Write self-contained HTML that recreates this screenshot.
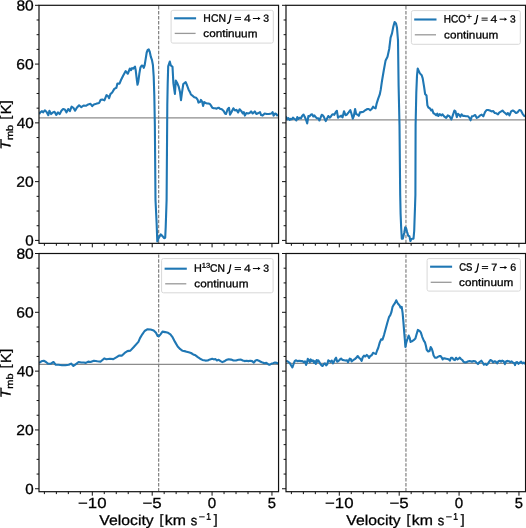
<!DOCTYPE html>
<html><head><meta charset="utf-8"><style>
html,body{margin:0;padding:0;background:#fff;width:526px;height:528px;overflow:hidden}
svg{display:block}
text{font-family:"Liberation Sans",sans-serif}
</style></head><body><svg width="526" height="528" viewBox="0 0 526 528" style="will-change:transform" font-family="Liberation Sans, sans-serif"><clipPath id="clipTL"><rect x="39.0" y="5.3" width="239.55" height="238.05"/></clipPath><g clip-path="url(#clipTL)"><line x1="39.00" y1="117.95" x2="278.55" y2="117.95" stroke="#8c8c8c" stroke-width="1.3" /><line x1="158.65" y1="243.35" x2="158.65" y2="5.30" stroke="#808080" stroke-width="1.2" stroke-dasharray="3.47 1.5" stroke-dashoffset="4.72"/><polyline points="39.10,114.10 40.30,112.40 42.00,111.20 43.10,112.40 44.80,110.30 46.60,112.10 48.30,115.20 49.40,110.70 51.10,114.10 52.80,112.40 54.50,111.80 56.30,114.90 58.00,112.40 59.70,114.10 61.40,110.70 63.10,109.00 64.80,109.50 66.50,112.40 68.20,109.00 69.90,111.20 71.60,106.70 73.40,107.80 75.10,110.70 76.80,107.80 79.10,105.30 81.30,107.20 83.60,105.50 85.90,105.80 88.20,104.40 90.50,103.80 92.20,106.10 93.90,104.40 96.20,103.80 97.10,103.40 99.20,102.90 100.70,99.80 102.30,99.60 104.40,100.30 106.50,95.10 108.00,96.10 109.10,98.20 110.40,94.10 112.20,92.50 114.30,88.90 116.40,87.80 117.40,83.60 119.50,83.60 121.00,80.00 123.10,75.80 125.70,71.10 127.80,73.75 129.90,68.50 131.00,70.20 132.10,68.10 133.10,68.60 134.20,67.60 135.00,66.60 135.70,70.20 136.80,79.60 137.50,84.80 138.30,81.70 139.40,73.30 140.40,67.60 141.70,65.50 142.70,65.80 143.75,67.90 144.60,65.50 145.60,59.30 146.70,52.50 147.70,49.90 148.75,49.40 149.80,52.00 150.80,56.70 151.90,59.80 152.90,65.00 153.70,76.50 154.30,95.00 154.85,125.00 155.50,200.00 156.60,222.70 157.30,241.40 158.60,238.20 160.60,234.40 162.30,235.90 164.10,238.20 165.20,237.70 165.70,227.30 166.60,200.00 167.30,105.00 167.70,83.40 168.20,66.40 169.80,61.60 170.80,65.40 172.50,66.80 173.40,83.40 174.90,93.90 175.80,80.60 177.20,83.00 178.60,86.30 180.00,92.10 181.00,100.20 181.90,93.10 183.30,84.00 185.70,82.10 187.10,85.50 188.60,89.70 190.00,92.10 190.90,94.50 192.80,95.90 194.30,97.30 196.20,97.80 197.60,99.70 198.50,102.60 200.00,102.10 200.90,99.90 202.10,101.60 203.10,105.90 204.20,102.10 205.70,103.00 207.10,103.50 208.50,103.50 209.90,104.00 210.90,105.40 212.30,107.80 213.70,108.30 215.20,108.30 216.60,108.70 218.00,107.80 219.00,107.80 219.90,108.70 221.80,109.20 223.70,111.10 225.00,113.50 226.00,114.00 227.60,109.30 229.00,107.80 230.00,114.60 231.30,112.50 233.40,108.30 234.90,110.40 236.50,109.90 238.10,112.50 239.60,109.30 241.20,110.90 242.80,113.50 243.80,112.00 244.90,115.60 246.40,113.00 248.00,113.50 249.60,113.00 251.10,111.40 252.70,113.50 254.80,111.40 256.40,114.00 258.50,113.00 260.00,112.00 261.10,115.10 262.60,115.60 264.70,113.50 266.80,114.00 268.90,114.00 271.50,113.50 272.60,112.00 273.60,115.60 275.20,113.50 276.20,114.00 277.80,116.10" fill="none" stroke="#1f77b4" stroke-width="2.1" stroke-linejoin="round" stroke-linecap="butt" /></g><rect x="39.0" y="5.3" width="239.55" height="238.05" fill="none" stroke="#111111" stroke-width="1.2"/><line x1="35.00" y1="240.41" x2="39.00" y2="240.41" stroke="#111111" stroke-width="1.0" /><line x1="36.60" y1="225.72" x2="39.00" y2="225.72" stroke="#111111" stroke-width="1.0" /><line x1="36.60" y1="211.02" x2="39.00" y2="211.02" stroke="#111111" stroke-width="1.0" /><line x1="36.60" y1="196.33" x2="39.00" y2="196.33" stroke="#111111" stroke-width="1.0" /><line x1="35.00" y1="181.63" x2="39.00" y2="181.63" stroke="#111111" stroke-width="1.0" /><line x1="36.60" y1="166.94" x2="39.00" y2="166.94" stroke="#111111" stroke-width="1.0" /><line x1="36.60" y1="152.24" x2="39.00" y2="152.24" stroke="#111111" stroke-width="1.0" /><line x1="36.60" y1="137.55" x2="39.00" y2="137.55" stroke="#111111" stroke-width="1.0" /><line x1="35.00" y1="122.86" x2="39.00" y2="122.86" stroke="#111111" stroke-width="1.0" /><line x1="36.60" y1="108.16" x2="39.00" y2="108.16" stroke="#111111" stroke-width="1.0" /><line x1="36.60" y1="93.47" x2="39.00" y2="93.47" stroke="#111111" stroke-width="1.0" /><line x1="36.60" y1="78.77" x2="39.00" y2="78.77" stroke="#111111" stroke-width="1.0" /><line x1="35.00" y1="64.08" x2="39.00" y2="64.08" stroke="#111111" stroke-width="1.0" /><line x1="36.60" y1="49.38" x2="39.00" y2="49.38" stroke="#111111" stroke-width="1.0" /><line x1="36.60" y1="34.69" x2="39.00" y2="34.69" stroke="#111111" stroke-width="1.0" /><line x1="36.60" y1="19.99" x2="39.00" y2="19.99" stroke="#111111" stroke-width="1.0" /><line x1="35.00" y1="5.30" x2="39.00" y2="5.30" stroke="#111111" stroke-width="1.0" /><line x1="44.39" y1="243.35" x2="44.39" y2="245.75" stroke="#111111" stroke-width="1.0" /><line x1="56.37" y1="243.35" x2="56.37" y2="245.75" stroke="#111111" stroke-width="1.0" /><line x1="68.34" y1="243.35" x2="68.34" y2="245.75" stroke="#111111" stroke-width="1.0" /><line x1="80.32" y1="243.35" x2="80.32" y2="245.75" stroke="#111111" stroke-width="1.0" /><line x1="92.30" y1="243.35" x2="92.30" y2="247.35" stroke="#111111" stroke-width="1.0" /><line x1="104.28" y1="243.35" x2="104.28" y2="245.75" stroke="#111111" stroke-width="1.0" /><line x1="116.25" y1="243.35" x2="116.25" y2="245.75" stroke="#111111" stroke-width="1.0" /><line x1="128.23" y1="243.35" x2="128.23" y2="245.75" stroke="#111111" stroke-width="1.0" /><line x1="140.21" y1="243.35" x2="140.21" y2="245.75" stroke="#111111" stroke-width="1.0" /><line x1="152.19" y1="243.35" x2="152.19" y2="247.35" stroke="#111111" stroke-width="1.0" /><line x1="164.16" y1="243.35" x2="164.16" y2="245.75" stroke="#111111" stroke-width="1.0" /><line x1="176.14" y1="243.35" x2="176.14" y2="245.75" stroke="#111111" stroke-width="1.0" /><line x1="188.12" y1="243.35" x2="188.12" y2="245.75" stroke="#111111" stroke-width="1.0" /><line x1="200.10" y1="243.35" x2="200.10" y2="245.75" stroke="#111111" stroke-width="1.0" /><line x1="212.07" y1="243.35" x2="212.07" y2="247.35" stroke="#111111" stroke-width="1.0" /><line x1="224.05" y1="243.35" x2="224.05" y2="245.75" stroke="#111111" stroke-width="1.0" /><line x1="236.03" y1="243.35" x2="236.03" y2="245.75" stroke="#111111" stroke-width="1.0" /><line x1="248.01" y1="243.35" x2="248.01" y2="245.75" stroke="#111111" stroke-width="1.0" /><line x1="259.98" y1="243.35" x2="259.98" y2="245.75" stroke="#111111" stroke-width="1.0" /><line x1="271.96" y1="243.35" x2="271.96" y2="247.35" stroke="#111111" stroke-width="1.0" /><text transform="translate(25.29,245.56) skewY(0.05) scale(1.0382,1)" font-size="14.6" fill="#000" stroke="#000" stroke-width="0.289">0</text><text transform="translate(16.32,186.78) skewY(0.05) scale(1.0744,1)" font-size="14.6" fill="#000" stroke="#000" stroke-width="0.279">20</text><text transform="translate(16.72,128.01) skewY(0.05) scale(1.0487,1)" font-size="14.6" fill="#000" stroke="#000" stroke-width="0.286">40</text><text transform="translate(16.32,69.23) skewY(0.05) scale(1.0744,1)" font-size="14.6" fill="#000" stroke="#000" stroke-width="0.279">60</text><text transform="translate(16.40,10.45) skewY(0.05) scale(1.0692,1)" font-size="14.6" fill="#000" stroke="#000" stroke-width="0.281">80</text><text transform="translate(10.60,149.71) rotate(-90) skewY(0.05) scale(1.0746,1)" font-size="14.6" font-style="italic" fill="#000" stroke="#000" stroke-width="0.279">T</text><text transform="translate(13.05,140.11) rotate(-90) skewY(0.05) scale(1.1430,1)" font-size="9.6" fill="#000" stroke="#000" stroke-width="0.262">mb</text><text transform="translate(9.90,119.54) rotate(-90) skewY(0.05) scale(0.9643,1)" font-size="14.0" fill="#000" stroke="#000" stroke-width="0.311">[</text><text transform="translate(10.90,114.30) rotate(-90) skewY(0.05) scale(1.0244,1)" font-size="14.6" fill="#000" stroke="#000" stroke-width="0.293">K</text><text transform="translate(9.90,104.14) rotate(-90) skewY(0.05) scale(1.0256,1)" font-size="14.0" fill="#000" stroke="#000" stroke-width="0.293">]</text><clipPath id="clipTR"><rect x="286.0" y="5.3" width="239.55" height="238.05"/></clipPath><g clip-path="url(#clipTR)"><line x1="286.00" y1="119.90" x2="525.55" y2="119.90" stroke="#8c8c8c" stroke-width="1.3" /><line x1="405.95" y1="243.35" x2="405.95" y2="5.30" stroke="#808080" stroke-width="1.2" stroke-dasharray="3.47 1.5" stroke-dashoffset="4.72"/><polyline points="285.00,116.50 286.10,117.10 287.30,119.40 288.40,118.00 289.60,120.00 290.70,118.80 291.80,119.40 293.00,117.70 294.10,118.80 295.30,119.40 296.40,120.50 297.30,117.10 298.50,118.80 299.60,117.70 301.00,118.30 302.10,116.00 303.50,114.60 304.60,116.50 306.10,120.00 307.20,123.40 308.40,116.00 309.50,116.50 310.70,114.80 312.10,114.30 313.30,116.50 314.40,115.40 315.60,117.10 316.90,118.30 318.30,118.30 319.40,120.50 320.60,117.70 321.70,114.80 322.90,115.40 324.00,117.10 324.90,119.40 325.80,121.10 327.20,118.30 328.30,116.00 329.70,117.70 330.90,116.50 332.00,114.80 333.10,114.30 334.30,114.80 335.80,112.00 336.90,110.80 338.00,117.70 339.20,116.50 340.30,116.50 341.10,115.60 342.50,117.50 344.00,111.20 345.50,115.20 346.80,114.70 348.60,112.40 350.30,110.10 351.40,113.50 352.80,118.60 353.90,115.80 355.10,109.00 356.20,114.10 357.70,114.70 358.80,115.80 360.00,112.40 361.70,112.10 363.40,111.80 365.10,110.30 367.40,109.00 368.70,109.00 370.20,110.30 371.70,109.00 373.10,106.70 374.20,107.80 375.60,108.40 376.70,103.30 378.20,98.70 379.70,94.70 380.70,89.90 382.10,80.20 383.80,70.30 385.60,60.40 387.50,56.80 389.20,49.00 390.60,37.70 392.00,33.40 393.40,26.30 394.60,22.10 396.00,23.50 397.00,27.80 398.00,40.50 398.60,85.50 399.50,125.00 400.20,195.00 400.60,214.00 401.20,228.20 401.80,238.60 402.80,238.80 404.20,232.90 405.20,227.20 406.10,228.20 407.10,232.00 408.20,235.80 409.40,236.20 410.40,241.00 411.30,239.10 412.60,238.80 413.50,238.60 414.20,231.00 414.60,218.70 415.10,204.50 415.40,195.00 415.60,125.00 416.30,92.60 417.00,75.60 417.70,68.50 418.90,71.30 419.90,73.40 421.70,75.30 422.70,78.40 424.10,86.90 425.10,94.00 426.50,95.50 427.40,105.40 428.40,107.50 429.80,108.20 431.20,110.40 432.20,109.70 433.40,113.20 434.80,113.90 436.20,115.30 437.30,113.60 438.30,116.00 439.70,114.20 441.30,115.40 442.50,114.30 444.10,116.30 446.20,117.90 447.80,115.40 449.50,116.30 451.40,119.50 452.80,115.40 454.40,110.50 455.50,111.40 456.80,117.10 458.00,113.80 459.30,115.00 460.40,116.60 461.60,114.30 462.90,115.90 464.50,115.90 466.20,116.30 468.10,116.30 469.40,117.90 470.60,120.30 471.90,116.30 473.50,115.90 475.20,115.00 476.80,117.90 478.40,117.10 480.10,115.40 481.70,114.60 483.30,116.30 485.00,112.20 486.60,110.00 488.20,110.00 489.90,110.50 491.50,111.40 493.10,111.00 494.80,113.00 496.40,113.30 498.00,114.30 499.20,112.70 500.80,111.70 502.50,110.50 504.10,112.20 505.40,113.30 506.70,114.60 507.90,113.00 509.50,115.40 511.10,111.40 512.80,110.50 514.40,111.40 516.00,113.00 517.70,112.20 519.30,110.00 520.90,110.50 522.60,113.80 524.20,115.90 526.00,116.30" fill="none" stroke="#1f77b4" stroke-width="2.1" stroke-linejoin="round" stroke-linecap="butt" /></g><rect x="286.0" y="5.3" width="239.55" height="238.05" fill="none" stroke="#111111" stroke-width="1.2"/><line x1="282.00" y1="240.41" x2="286.00" y2="240.41" stroke="#111111" stroke-width="1.0" /><line x1="283.60" y1="225.72" x2="286.00" y2="225.72" stroke="#111111" stroke-width="1.0" /><line x1="283.60" y1="211.02" x2="286.00" y2="211.02" stroke="#111111" stroke-width="1.0" /><line x1="283.60" y1="196.33" x2="286.00" y2="196.33" stroke="#111111" stroke-width="1.0" /><line x1="282.00" y1="181.63" x2="286.00" y2="181.63" stroke="#111111" stroke-width="1.0" /><line x1="283.60" y1="166.94" x2="286.00" y2="166.94" stroke="#111111" stroke-width="1.0" /><line x1="283.60" y1="152.24" x2="286.00" y2="152.24" stroke="#111111" stroke-width="1.0" /><line x1="283.60" y1="137.55" x2="286.00" y2="137.55" stroke="#111111" stroke-width="1.0" /><line x1="282.00" y1="122.86" x2="286.00" y2="122.86" stroke="#111111" stroke-width="1.0" /><line x1="283.60" y1="108.16" x2="286.00" y2="108.16" stroke="#111111" stroke-width="1.0" /><line x1="283.60" y1="93.47" x2="286.00" y2="93.47" stroke="#111111" stroke-width="1.0" /><line x1="283.60" y1="78.77" x2="286.00" y2="78.77" stroke="#111111" stroke-width="1.0" /><line x1="282.00" y1="64.08" x2="286.00" y2="64.08" stroke="#111111" stroke-width="1.0" /><line x1="283.60" y1="49.38" x2="286.00" y2="49.38" stroke="#111111" stroke-width="1.0" /><line x1="283.60" y1="34.69" x2="286.00" y2="34.69" stroke="#111111" stroke-width="1.0" /><line x1="283.60" y1="19.99" x2="286.00" y2="19.99" stroke="#111111" stroke-width="1.0" /><line x1="282.00" y1="5.30" x2="286.00" y2="5.30" stroke="#111111" stroke-width="1.0" /><line x1="291.39" y1="243.35" x2="291.39" y2="245.75" stroke="#111111" stroke-width="1.0" /><line x1="303.37" y1="243.35" x2="303.37" y2="245.75" stroke="#111111" stroke-width="1.0" /><line x1="315.34" y1="243.35" x2="315.34" y2="245.75" stroke="#111111" stroke-width="1.0" /><line x1="327.32" y1="243.35" x2="327.32" y2="245.75" stroke="#111111" stroke-width="1.0" /><line x1="339.30" y1="243.35" x2="339.30" y2="247.35" stroke="#111111" stroke-width="1.0" /><line x1="351.28" y1="243.35" x2="351.28" y2="245.75" stroke="#111111" stroke-width="1.0" /><line x1="363.25" y1="243.35" x2="363.25" y2="245.75" stroke="#111111" stroke-width="1.0" /><line x1="375.23" y1="243.35" x2="375.23" y2="245.75" stroke="#111111" stroke-width="1.0" /><line x1="387.21" y1="243.35" x2="387.21" y2="245.75" stroke="#111111" stroke-width="1.0" /><line x1="399.19" y1="243.35" x2="399.19" y2="247.35" stroke="#111111" stroke-width="1.0" /><line x1="411.16" y1="243.35" x2="411.16" y2="245.75" stroke="#111111" stroke-width="1.0" /><line x1="423.14" y1="243.35" x2="423.14" y2="245.75" stroke="#111111" stroke-width="1.0" /><line x1="435.12" y1="243.35" x2="435.12" y2="245.75" stroke="#111111" stroke-width="1.0" /><line x1="447.10" y1="243.35" x2="447.10" y2="245.75" stroke="#111111" stroke-width="1.0" /><line x1="459.07" y1="243.35" x2="459.07" y2="247.35" stroke="#111111" stroke-width="1.0" /><line x1="471.05" y1="243.35" x2="471.05" y2="245.75" stroke="#111111" stroke-width="1.0" /><line x1="483.03" y1="243.35" x2="483.03" y2="245.75" stroke="#111111" stroke-width="1.0" /><line x1="495.01" y1="243.35" x2="495.01" y2="245.75" stroke="#111111" stroke-width="1.0" /><line x1="506.98" y1="243.35" x2="506.98" y2="245.75" stroke="#111111" stroke-width="1.0" /><line x1="518.96" y1="243.35" x2="518.96" y2="247.35" stroke="#111111" stroke-width="1.0" /><clipPath id="clipBL"><rect x="39.0" y="253.5" width="239.55" height="238.20"/></clipPath><g clip-path="url(#clipBL)"><line x1="39.00" y1="364.30" x2="278.55" y2="364.30" stroke="#8c8c8c" stroke-width="1.3" /><line x1="158.65" y1="491.70" x2="158.65" y2="253.50" stroke="#808080" stroke-width="1.2" stroke-dasharray="3.47 1.5" stroke-dashoffset="4.72"/><polyline points="39.10,362.90 41.40,361.30 43.70,360.70 46.00,362.00 48.30,363.80 50.50,363.80 53.50,362.00 55.80,364.80 58.50,364.80 62.00,365.20 65.40,365.20 68.80,364.80 71.10,363.60 73.40,365.90 75.60,364.30 78.60,362.00 81.30,362.50 83.60,362.50 85.90,362.90 88.20,361.60 90.50,362.00 93.90,360.70 97.30,361.30 100.70,361.60 104.20,358.40 106.40,359.30 109.90,358.80 113.30,359.10 116.70,357.20 119.00,355.60 122.00,355.60 124.70,352.90 127.40,351.10 130.40,350.60 133.80,347.00 138.40,341.90 140.00,338.10 142.30,334.30 144.60,331.00 147.60,329.20 150.60,329.50 153.70,330.50 156.00,332.80 157.50,335.90 159.00,336.20 160.50,334.30 162.50,331.60 165.10,332.10 168.10,332.80 170.40,334.30 172.70,337.40 175.00,341.90 177.70,346.50 180.30,349.20 182.60,350.80 185.60,351.40 188.70,352.30 191.00,353.00 193.20,354.40 195.50,355.30 197.80,357.10 200.10,358.70 202.40,359.90 205.40,360.60 207.70,360.50 210.00,359.40 212.20,358.70 213.80,359.40 215.30,359.00 216.90,360.50 218.70,359.80 220.60,361.10 222.40,362.10 224.30,361.30 226.10,360.10 228.60,359.20 231.10,359.60 233.50,360.50 236.00,360.50 238.50,359.80 241.00,359.60 242.80,360.50 244.70,361.10 246.50,360.80 248.40,361.10 250.20,360.80 252.10,361.10 253.90,362.60 255.50,360.50 257.00,360.10 258.90,360.80 260.70,361.70 262.60,362.60 264.40,363.30 266.30,362.90 268.20,364.20 269.40,364.80 271.20,363.80 273.10,363.30 275.00,362.60 276.80,362.90 278.50,363.50" fill="none" stroke="#1f77b4" stroke-width="2.1" stroke-linejoin="round" stroke-linecap="butt" /></g><rect x="39.0" y="253.5" width="239.55" height="238.20" fill="none" stroke="#111111" stroke-width="1.2"/><line x1="35.00" y1="488.76" x2="39.00" y2="488.76" stroke="#111111" stroke-width="1.0" /><line x1="36.60" y1="474.06" x2="39.00" y2="474.06" stroke="#111111" stroke-width="1.0" /><line x1="36.60" y1="459.35" x2="39.00" y2="459.35" stroke="#111111" stroke-width="1.0" /><line x1="36.60" y1="444.65" x2="39.00" y2="444.65" stroke="#111111" stroke-width="1.0" /><line x1="35.00" y1="429.94" x2="39.00" y2="429.94" stroke="#111111" stroke-width="1.0" /><line x1="36.60" y1="415.24" x2="39.00" y2="415.24" stroke="#111111" stroke-width="1.0" /><line x1="36.60" y1="400.54" x2="39.00" y2="400.54" stroke="#111111" stroke-width="1.0" /><line x1="36.60" y1="385.83" x2="39.00" y2="385.83" stroke="#111111" stroke-width="1.0" /><line x1="35.00" y1="371.13" x2="39.00" y2="371.13" stroke="#111111" stroke-width="1.0" /><line x1="36.60" y1="356.43" x2="39.00" y2="356.43" stroke="#111111" stroke-width="1.0" /><line x1="36.60" y1="341.72" x2="39.00" y2="341.72" stroke="#111111" stroke-width="1.0" /><line x1="36.60" y1="327.02" x2="39.00" y2="327.02" stroke="#111111" stroke-width="1.0" /><line x1="35.00" y1="312.31" x2="39.00" y2="312.31" stroke="#111111" stroke-width="1.0" /><line x1="36.60" y1="297.61" x2="39.00" y2="297.61" stroke="#111111" stroke-width="1.0" /><line x1="36.60" y1="282.91" x2="39.00" y2="282.91" stroke="#111111" stroke-width="1.0" /><line x1="36.60" y1="268.20" x2="39.00" y2="268.20" stroke="#111111" stroke-width="1.0" /><line x1="35.00" y1="253.50" x2="39.00" y2="253.50" stroke="#111111" stroke-width="1.0" /><line x1="44.39" y1="491.70" x2="44.39" y2="494.10" stroke="#111111" stroke-width="1.0" /><line x1="56.37" y1="491.70" x2="56.37" y2="494.10" stroke="#111111" stroke-width="1.0" /><line x1="68.34" y1="491.70" x2="68.34" y2="494.10" stroke="#111111" stroke-width="1.0" /><line x1="80.32" y1="491.70" x2="80.32" y2="494.10" stroke="#111111" stroke-width="1.0" /><line x1="92.30" y1="491.70" x2="92.30" y2="495.70" stroke="#111111" stroke-width="1.0" /><line x1="104.28" y1="491.70" x2="104.28" y2="494.10" stroke="#111111" stroke-width="1.0" /><line x1="116.25" y1="491.70" x2="116.25" y2="494.10" stroke="#111111" stroke-width="1.0" /><line x1="128.23" y1="491.70" x2="128.23" y2="494.10" stroke="#111111" stroke-width="1.0" /><line x1="140.21" y1="491.70" x2="140.21" y2="494.10" stroke="#111111" stroke-width="1.0" /><line x1="152.19" y1="491.70" x2="152.19" y2="495.70" stroke="#111111" stroke-width="1.0" /><line x1="164.16" y1="491.70" x2="164.16" y2="494.10" stroke="#111111" stroke-width="1.0" /><line x1="176.14" y1="491.70" x2="176.14" y2="494.10" stroke="#111111" stroke-width="1.0" /><line x1="188.12" y1="491.70" x2="188.12" y2="494.10" stroke="#111111" stroke-width="1.0" /><line x1="200.10" y1="491.70" x2="200.10" y2="494.10" stroke="#111111" stroke-width="1.0" /><line x1="212.07" y1="491.70" x2="212.07" y2="495.70" stroke="#111111" stroke-width="1.0" /><line x1="224.05" y1="491.70" x2="224.05" y2="494.10" stroke="#111111" stroke-width="1.0" /><line x1="236.03" y1="491.70" x2="236.03" y2="494.10" stroke="#111111" stroke-width="1.0" /><line x1="248.01" y1="491.70" x2="248.01" y2="494.10" stroke="#111111" stroke-width="1.0" /><line x1="259.98" y1="491.70" x2="259.98" y2="494.10" stroke="#111111" stroke-width="1.0" /><line x1="271.96" y1="491.70" x2="271.96" y2="495.70" stroke="#111111" stroke-width="1.0" /><text transform="translate(25.29,493.91) skewY(0.05) scale(1.0382,1)" font-size="14.6" fill="#000" stroke="#000" stroke-width="0.289">0</text><text transform="translate(16.32,435.09) skewY(0.05) scale(1.0744,1)" font-size="14.6" fill="#000" stroke="#000" stroke-width="0.279">20</text><text transform="translate(16.72,376.28) skewY(0.05) scale(1.0487,1)" font-size="14.6" fill="#000" stroke="#000" stroke-width="0.286">40</text><text transform="translate(16.32,317.46) skewY(0.05) scale(1.0744,1)" font-size="14.6" fill="#000" stroke="#000" stroke-width="0.279">60</text><text transform="translate(16.40,258.65) skewY(0.05) scale(1.0692,1)" font-size="14.6" fill="#000" stroke="#000" stroke-width="0.281">80</text><text transform="translate(77.96,507.90) skewY(0.05) scale(1.1522,1)" font-size="14.6" fill="#000" stroke="#000" stroke-width="0.260">−10</text><text transform="translate(142.44,507.90) skewY(0.05) scale(1.1611,1)" font-size="14.6" fill="#000" stroke="#000" stroke-width="0.258">−5</text><text transform="translate(207.87,507.90) skewY(0.05) scale(1.0382,1)" font-size="14.6" fill="#000" stroke="#000" stroke-width="0.289">0</text><text transform="translate(267.87,507.90) skewY(0.05) scale(1.0094,1)" font-size="14.6" fill="#000" stroke="#000" stroke-width="0.297">5</text><text transform="translate(99.32,525.00) skewY(0.05) scale(1.1034,1)" font-size="14.3" fill="#000" stroke="#000" stroke-width="0.272">Velocity</text><text transform="translate(159.52,524.10) skewY(0.05) scale(1.0370,1)" font-size="13.5" fill="#000" stroke="#000" stroke-width="0.289">[</text><text transform="translate(164.77,525.00) skewY(0.05) scale(1.1072,1)" font-size="14.3" fill="#000" stroke="#000" stroke-width="0.271">km</text><text transform="translate(190.81,525.20) skewY(0.05) scale(0.9195,1)" font-size="14.0" fill="#000" stroke="#000" stroke-width="0.326">s</text><line x1="199.10" y1="516.85" x2="204.70" y2="516.85" stroke="#000" stroke-width="0.95" /><text transform="translate(206.37,519.80) skewY(0.05) scale(0.8631,1)" font-size="9.7" fill="#000" stroke="#000" stroke-width="0.348">1</text><text transform="translate(213.76,524.10) skewY(0.05) scale(1.0256,1)" font-size="13.5" fill="#000" stroke="#000" stroke-width="0.293">]</text><text transform="translate(10.60,398.31) rotate(-90) skewY(0.05) scale(1.0746,1)" font-size="14.6" font-style="italic" fill="#000" stroke="#000" stroke-width="0.279">T</text><text transform="translate(13.05,388.71) rotate(-90) skewY(0.05) scale(1.1430,1)" font-size="9.6" fill="#000" stroke="#000" stroke-width="0.262">mb</text><text transform="translate(9.90,368.14) rotate(-90) skewY(0.05) scale(0.9643,1)" font-size="14.0" fill="#000" stroke="#000" stroke-width="0.311">[</text><text transform="translate(10.90,362.90) rotate(-90) skewY(0.05) scale(1.0244,1)" font-size="14.6" fill="#000" stroke="#000" stroke-width="0.293">K</text><text transform="translate(9.90,352.74) rotate(-90) skewY(0.05) scale(1.0256,1)" font-size="14.0" fill="#000" stroke="#000" stroke-width="0.292">]</text><clipPath id="clipBR"><rect x="286.0" y="253.5" width="239.55" height="238.20"/></clipPath><g clip-path="url(#clipBR)"><line x1="286.00" y1="363.40" x2="525.55" y2="363.40" stroke="#8c8c8c" stroke-width="1.3" /><line x1="405.95" y1="491.70" x2="405.95" y2="253.50" stroke="#808080" stroke-width="1.2" stroke-dasharray="3.47 1.5" stroke-dashoffset="4.72"/><polyline points="286.10,360.50 287.90,361.70 289.60,362.80 291.30,365.70 292.40,367.40 293.60,364.00 294.70,361.10 295.80,360.30 297.50,361.10 299.30,360.80 301.00,361.10 302.30,361.10 303.80,362.20 305.00,361.40 306.10,364.90 306.90,362.80 307.80,358.80 308.70,360.00 309.90,362.20 310.70,359.40 311.80,361.10 312.90,360.30 314.10,362.80 314.90,361.10 315.80,364.00 316.70,360.00 317.50,361.70 318.30,360.30 319.20,361.70 320.40,364.00 321.50,365.30 322.60,366.00 323.80,364.00 324.90,363.40 326.10,365.30 327.20,364.50 328.30,360.30 329.50,361.10 330.60,361.90 331.80,360.50 332.90,363.40 334.00,361.70 335.20,358.80 336.10,357.70 337.20,361.70 338.40,361.10 339.50,360.00 340.20,359.20 341.10,358.50 342.50,359.90 344.00,360.20 345.70,360.60 347.10,360.20 348.00,362.20 349.70,358.70 350.80,359.10 351.60,361.40 353.10,360.20 354.80,359.10 356.50,357.60 357.70,356.00 359.20,357.90 360.50,359.10 361.70,360.80 362.80,357.10 364.00,355.70 365.30,356.50 366.80,354.90 367.90,356.00 369.10,357.90 370.20,356.00 371.70,355.30 373.10,352.80 374.40,353.40 375.90,354.00 377.10,350.50 378.20,348.00 379.40,343.70 380.00,341.90 381.10,339.30 382.50,339.60 384.00,335.10 385.70,328.80 387.40,322.50 389.10,316.80 390.30,315.10 391.40,312.20 392.50,307.10 393.90,304.60 395.10,302.80 396.20,300.30 397.30,302.50 398.50,304.30 399.60,305.40 400.50,307.70 401.70,306.90 402.60,312.80 403.40,321.90 404.20,332.20 404.90,340.20 405.40,347.00 406.20,343.00 407.40,339.00 408.70,335.60 409.70,337.90 410.60,341.90 411.90,341.30 413.60,340.20 415.40,338.50 416.50,334.50 417.90,329.90 419.40,330.80 420.80,332.40 422.20,336.80 423.90,340.80 425.00,342.40 425.90,345.80 426.70,349.80 428.20,351.50 429.60,351.00 430.70,347.00 431.80,348.70 432.80,352.10 433.60,355.50 435.00,357.60 436.40,357.80 437.80,356.90 439.30,356.10 440.70,356.10 441.90,357.80 442.70,359.50 443.50,358.40 444.60,358.40 446.10,358.70 447.60,359.00 449.00,359.50 449.90,360.70 451.00,357.80 452.40,357.80 453.50,359.50 454.90,360.10 456.00,357.80 457.50,359.50 458.60,358.70 459.80,357.60 460.90,359.00 462.40,360.10 463.60,361.80 464.70,362.40 466.10,362.40 467.80,361.50 469.50,361.00 470.60,361.20 472.00,361.80 473.50,361.00 475.20,361.20 476.30,362.40 478.00,364.10 479.20,362.40 480.30,361.50 481.30,360.70 482.60,362.50 483.90,364.70 485.20,363.80 486.60,365.00 487.90,363.80 489.20,361.60 490.50,360.00 491.80,360.60 493.10,362.50 494.40,361.20 495.70,361.60 497.10,363.40 498.40,361.20 499.70,360.70 501.00,361.60 502.30,360.60 503.60,361.20 504.90,364.20 506.20,361.20 507.60,360.90 508.90,361.20 510.20,362.10 511.50,361.40 512.80,362.50 514.10,362.90 515.00,365.10 515.90,362.50 517.20,362.10 518.50,363.80 519.80,362.50 521.10,361.60 522.40,363.40 523.70,362.50 525.10,364.20" fill="none" stroke="#1f77b4" stroke-width="2.1" stroke-linejoin="round" stroke-linecap="butt" /></g><rect x="286.0" y="253.5" width="239.55" height="238.20" fill="none" stroke="#111111" stroke-width="1.2"/><line x1="282.00" y1="488.76" x2="286.00" y2="488.76" stroke="#111111" stroke-width="1.0" /><line x1="283.60" y1="474.06" x2="286.00" y2="474.06" stroke="#111111" stroke-width="1.0" /><line x1="283.60" y1="459.35" x2="286.00" y2="459.35" stroke="#111111" stroke-width="1.0" /><line x1="283.60" y1="444.65" x2="286.00" y2="444.65" stroke="#111111" stroke-width="1.0" /><line x1="282.00" y1="429.94" x2="286.00" y2="429.94" stroke="#111111" stroke-width="1.0" /><line x1="283.60" y1="415.24" x2="286.00" y2="415.24" stroke="#111111" stroke-width="1.0" /><line x1="283.60" y1="400.54" x2="286.00" y2="400.54" stroke="#111111" stroke-width="1.0" /><line x1="283.60" y1="385.83" x2="286.00" y2="385.83" stroke="#111111" stroke-width="1.0" /><line x1="282.00" y1="371.13" x2="286.00" y2="371.13" stroke="#111111" stroke-width="1.0" /><line x1="283.60" y1="356.43" x2="286.00" y2="356.43" stroke="#111111" stroke-width="1.0" /><line x1="283.60" y1="341.72" x2="286.00" y2="341.72" stroke="#111111" stroke-width="1.0" /><line x1="283.60" y1="327.02" x2="286.00" y2="327.02" stroke="#111111" stroke-width="1.0" /><line x1="282.00" y1="312.31" x2="286.00" y2="312.31" stroke="#111111" stroke-width="1.0" /><line x1="283.60" y1="297.61" x2="286.00" y2="297.61" stroke="#111111" stroke-width="1.0" /><line x1="283.60" y1="282.91" x2="286.00" y2="282.91" stroke="#111111" stroke-width="1.0" /><line x1="283.60" y1="268.20" x2="286.00" y2="268.20" stroke="#111111" stroke-width="1.0" /><line x1="282.00" y1="253.50" x2="286.00" y2="253.50" stroke="#111111" stroke-width="1.0" /><line x1="291.39" y1="491.70" x2="291.39" y2="494.10" stroke="#111111" stroke-width="1.0" /><line x1="303.37" y1="491.70" x2="303.37" y2="494.10" stroke="#111111" stroke-width="1.0" /><line x1="315.34" y1="491.70" x2="315.34" y2="494.10" stroke="#111111" stroke-width="1.0" /><line x1="327.32" y1="491.70" x2="327.32" y2="494.10" stroke="#111111" stroke-width="1.0" /><line x1="339.30" y1="491.70" x2="339.30" y2="495.70" stroke="#111111" stroke-width="1.0" /><line x1="351.28" y1="491.70" x2="351.28" y2="494.10" stroke="#111111" stroke-width="1.0" /><line x1="363.25" y1="491.70" x2="363.25" y2="494.10" stroke="#111111" stroke-width="1.0" /><line x1="375.23" y1="491.70" x2="375.23" y2="494.10" stroke="#111111" stroke-width="1.0" /><line x1="387.21" y1="491.70" x2="387.21" y2="494.10" stroke="#111111" stroke-width="1.0" /><line x1="399.19" y1="491.70" x2="399.19" y2="495.70" stroke="#111111" stroke-width="1.0" /><line x1="411.16" y1="491.70" x2="411.16" y2="494.10" stroke="#111111" stroke-width="1.0" /><line x1="423.14" y1="491.70" x2="423.14" y2="494.10" stroke="#111111" stroke-width="1.0" /><line x1="435.12" y1="491.70" x2="435.12" y2="494.10" stroke="#111111" stroke-width="1.0" /><line x1="447.10" y1="491.70" x2="447.10" y2="494.10" stroke="#111111" stroke-width="1.0" /><line x1="459.07" y1="491.70" x2="459.07" y2="495.70" stroke="#111111" stroke-width="1.0" /><line x1="471.05" y1="491.70" x2="471.05" y2="494.10" stroke="#111111" stroke-width="1.0" /><line x1="483.03" y1="491.70" x2="483.03" y2="494.10" stroke="#111111" stroke-width="1.0" /><line x1="495.01" y1="491.70" x2="495.01" y2="494.10" stroke="#111111" stroke-width="1.0" /><line x1="506.98" y1="491.70" x2="506.98" y2="494.10" stroke="#111111" stroke-width="1.0" /><line x1="518.96" y1="491.70" x2="518.96" y2="495.70" stroke="#111111" stroke-width="1.0" /><text transform="translate(324.96,507.90) skewY(0.05) scale(1.1522,1)" font-size="14.6" fill="#000" stroke="#000" stroke-width="0.260">−10</text><text transform="translate(389.44,507.90) skewY(0.05) scale(1.1611,1)" font-size="14.6" fill="#000" stroke="#000" stroke-width="0.258">−5</text><text transform="translate(454.87,507.90) skewY(0.05) scale(1.0382,1)" font-size="14.6" fill="#000" stroke="#000" stroke-width="0.289">0</text><text transform="translate(514.87,507.90) skewY(0.05) scale(1.0094,1)" font-size="14.6" fill="#000" stroke="#000" stroke-width="0.297">5</text><text transform="translate(346.32,525.00) skewY(0.05) scale(1.1034,1)" font-size="14.3" fill="#000" stroke="#000" stroke-width="0.272">Velocity</text><text transform="translate(406.52,524.10) skewY(0.05) scale(1.0370,1)" font-size="13.5" fill="#000" stroke="#000" stroke-width="0.289">[</text><text transform="translate(411.77,525.00) skewY(0.05) scale(1.1072,1)" font-size="14.3" fill="#000" stroke="#000" stroke-width="0.271">km</text><text transform="translate(437.81,525.20) skewY(0.05) scale(0.9195,1)" font-size="14.0" fill="#000" stroke="#000" stroke-width="0.326">s</text><line x1="446.10" y1="516.85" x2="451.70" y2="516.85" stroke="#000" stroke-width="0.95" /><text transform="translate(453.37,519.80) skewY(0.05) scale(0.8631,1)" font-size="9.7" fill="#000" stroke="#000" stroke-width="0.348">1</text><text transform="translate(460.76,524.10) skewY(0.05) scale(1.0256,1)" font-size="13.5" fill="#000" stroke="#000" stroke-width="0.292">]</text><rect x="171.1" y="10.3" width="102.20" height="32.80" rx="1.8" ry="1.8" fill="#fff" fill-opacity="0.8" stroke="#d8d8d8" stroke-width="1"/><line x1="174.10" y1="18.30" x2="196.10" y2="18.30" stroke="#1f77b4" stroke-width="2.1" /><line x1="174.70" y1="33.40" x2="195.60" y2="33.40" stroke="#999999" stroke-width="1.3" /><text transform="translate(203.37,21.80) skewY(0.05) scale(0.9652,1)" font-size="10.8" fill="#000" stroke="#000" stroke-width="0.311">HCN</text><path d="M230.90,14.30 L229.35,22.00 Q228.90,23.40 227.00,23.25" fill="none" stroke="#000" stroke-width="1.25"/><line x1="234.65" y1="17.45" x2="241.00" y2="17.45" stroke="#000" stroke-width="0.9" /><line x1="234.65" y1="19.50" x2="241.00" y2="19.50" stroke="#000" stroke-width="0.9" /><text transform="translate(243.89,21.70) skewY(0.05) scale(1.1845,1)" font-size="10.3" fill="#000" stroke="#000" stroke-width="0.253">4</text><line x1="252.90" y1="18.50" x2="258.60" y2="18.50" stroke="#000" stroke-width="1.0"/><path d="M257.80,16.75 L260.50,18.50 L257.80,20.25 Q258.50,18.50 257.80,16.75Z" fill="#000"/><text transform="translate(263.18,21.70) skewY(0.05) scale(1.0122,1)" font-size="10.3" fill="#000" stroke="#000" stroke-width="0.296">3</text><text transform="translate(203.27,37.10) skewY(0.05) scale(1.0885,1)" font-size="10.8" fill="#000" stroke="#000" stroke-width="0.276">continuum</text><rect x="411.4" y="10.6" width="108.90" height="33.70" rx="1.8" ry="1.8" fill="#fff" fill-opacity="0.8" stroke="#d8d8d8" stroke-width="1"/><line x1="414.20" y1="19.50" x2="436.50" y2="19.50" stroke="#1f77b4" stroke-width="2.1" /><line x1="414.80" y1="34.80" x2="436.00" y2="34.80" stroke="#999999" stroke-width="1.3" /><text transform="translate(443.80,22.50) skewY(0.05) scale(0.9237,1)" font-size="10.8" fill="#000" stroke="#000" stroke-width="0.325">HCO</text><line x1="466.80" y1="16.45" x2="471.70" y2="16.45" stroke="#000" stroke-width="0.9" /><line x1="469.05" y1="14.20" x2="469.05" y2="18.80" stroke="#000" stroke-width="0.9" /><path d="M477.70,15.00 L476.15,22.70 Q475.70,24.10 473.80,23.95" fill="none" stroke="#000" stroke-width="1.25"/><line x1="481.55" y1="18.15" x2="487.70" y2="18.15" stroke="#000" stroke-width="0.9" /><line x1="481.55" y1="20.20" x2="487.70" y2="20.20" stroke="#000" stroke-width="0.9" /><text transform="translate(490.59,22.40) skewY(0.05) scale(1.1845,1)" font-size="10.3" fill="#000" stroke="#000" stroke-width="0.253">4</text><line x1="499.60" y1="19.20" x2="505.20" y2="19.20" stroke="#000" stroke-width="1.0"/><path d="M504.40,17.45 L507.10,19.20 L504.40,20.95 Q505.10,19.20 504.40,17.45Z" fill="#000"/><text transform="translate(510.09,22.40) skewY(0.05) scale(0.9915,1)" font-size="10.3" fill="#000" stroke="#000" stroke-width="0.303">3</text><text transform="translate(444.07,38.40) skewY(0.05) scale(1.0885,1)" font-size="10.8" fill="#000" stroke="#000" stroke-width="0.276">continuum</text><rect x="161.6" y="258.6" width="111.50" height="34.20" rx="1.8" ry="1.8" fill="#fff" fill-opacity="0.8" stroke="#d8d8d8" stroke-width="1"/><line x1="164.60" y1="268.70" x2="186.80" y2="268.70" stroke="#1f77b4" stroke-width="2.1" /><line x1="165.20" y1="283.80" x2="186.30" y2="283.80" stroke="#999999" stroke-width="1.3" /><text transform="translate(193.93,271.85) skewY(0.05) scale(1.0086,1)" font-size="10.8" fill="#000" stroke="#000" stroke-width="0.297">H</text><text transform="translate(201.73,267.80) skewY(0.05) scale(1.0823,1)" font-size="7.0" fill="#000" stroke="#000" stroke-width="0.277">13</text><text transform="translate(210.08,271.85) skewY(0.05) scale(0.9542,1)" font-size="10.8" fill="#000" stroke="#000" stroke-width="0.314">CN</text><path d="M230.80,264.35 L229.25,272.05 Q228.80,273.45 226.90,273.30" fill="none" stroke="#000" stroke-width="1.25"/><line x1="234.65" y1="267.50" x2="241.00" y2="267.50" stroke="#000" stroke-width="0.9" /><line x1="234.65" y1="269.55" x2="241.00" y2="269.55" stroke="#000" stroke-width="0.9" /><text transform="translate(243.89,271.75) skewY(0.05) scale(1.1845,1)" font-size="10.3" fill="#000" stroke="#000" stroke-width="0.253">4</text><line x1="252.90" y1="268.55" x2="258.60" y2="268.55" stroke="#000" stroke-width="1.0"/><path d="M257.80,266.80 L260.50,268.55 L257.80,270.30 Q258.50,268.55 257.80,266.80Z" fill="#000"/><text transform="translate(263.18,271.75) skewY(0.05) scale(1.0122,1)" font-size="10.3" fill="#000" stroke="#000" stroke-width="0.296">3</text><text transform="translate(194.27,287.20) skewY(0.05) scale(1.0885,1)" font-size="10.8" fill="#000" stroke="#000" stroke-width="0.276">continuum</text><rect x="427.1" y="258.6" width="93.30" height="32.50" rx="1.8" ry="1.8" fill="#fff" fill-opacity="0.8" stroke="#d8d8d8" stroke-width="1"/><line x1="430.10" y1="266.70" x2="452.10" y2="266.70" stroke="#1f77b4" stroke-width="2.1" /><line x1="430.70" y1="282.30" x2="451.60" y2="282.30" stroke="#999999" stroke-width="1.3" /><text transform="translate(459.13,270.85) skewY(0.05) scale(0.8757,1)" font-size="10.8" fill="#000" stroke="#000" stroke-width="0.343">CS</text><path d="M478.50,263.35 L476.95,271.05 Q476.50,272.45 474.60,272.30" fill="none" stroke="#000" stroke-width="1.25"/><line x1="481.85" y1="266.50" x2="488.10" y2="266.50" stroke="#000" stroke-width="0.9" /><line x1="481.85" y1="268.55" x2="488.10" y2="268.55" stroke="#000" stroke-width="0.9" /><text transform="translate(491.36,270.75) skewY(0.05) scale(1.0456,1)" font-size="10.3" fill="#000" stroke="#000" stroke-width="0.287">7</text><line x1="499.80" y1="267.55" x2="505.20" y2="267.55" stroke="#000" stroke-width="1.0"/><path d="M504.40,265.80 L507.10,267.55 L504.40,269.30 Q505.10,267.55 504.40,265.80Z" fill="#000"/><text transform="translate(510.17,270.75) skewY(0.05) scale(1.0342,1)" font-size="10.3" fill="#000" stroke="#000" stroke-width="0.290">6</text><text transform="translate(459.07,285.90) skewY(0.05) scale(1.0885,1)" font-size="10.8" fill="#000" stroke="#000" stroke-width="0.276">continuum</text></svg></body></html>
